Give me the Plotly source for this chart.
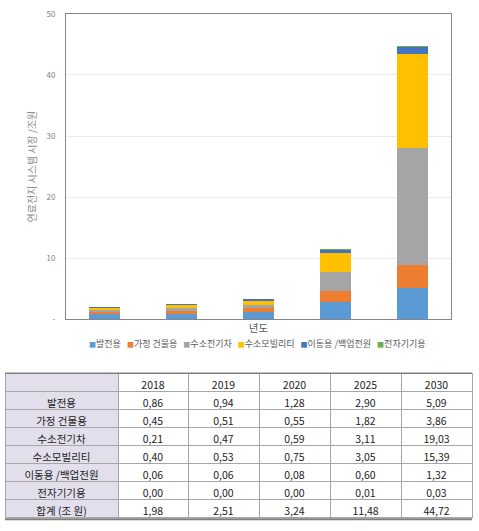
import plotly.graph_objects as go

W, H = 479, 531

years = ["2018", "2019", "2020", "2025", "2030"]
series_names = ["발전용", "가정 건물용", "수소전기차", "수소모빌리티", "이동용 /백업전원", "전자기기용"]
balgeon = [0.86, 0.94, 1.28, 2.90, 5.09]
gajeong = [0.45, 0.51, 0.55, 1.82, 3.86]
suso_car = [0.21, 0.47, 0.59, 3.11, 19.03]
suso_mob = [0.40, 0.53, 0.75, 3.05, 15.39]
idong = [0.06, 0.06, 0.08, 0.60, 1.32]
jeonja = [0.00, 0.00, 0.00, 0.01, 0.03]
totals = [1.98, 2.51, 3.24, 11.48, 44.72]
series_values = [balgeon, gajeong, suso_car, suso_mob, idong, jeonja]
colors = ["#5B9BD5", "#ED7D31", "#A5A5A5", "#FFC000", "#4472C4", "#70AD47"]
ytick_vals = [0, 10, 20, 30, 40, 50]
ytick_text = ["-", "10", "20", "30", "40", "50"]
row_labels = series_names + ["합계 (조 원)"]

FONT = "Noto Sans CJK KR"

def px_x(x):
    return x / W

def px_y(y):
    return 1 - y / H

fig = go.Figure()
for name, vals, c in zip(series_names, series_values, colors):
    fig.add_trace(go.Bar(x=years, y=vals, name=name, marker=dict(color=c, line=dict(width=0)),
                         width=0.4, xaxis="x", yaxis="y", showlegend=False))

def fmt(v):
    return f"{v:.2f}".replace(".", ",")

table_rows = series_values + [totals]
label_col = [s.replace(" ", "\u00a0") for s in row_labels]
cols = [label_col] + [[fmt(r[i]) for r in table_rows] for i in range(len(years))]
lav = "#E3DEEC"
fig.add_trace(go.Table(
    domain=dict(x=[px_x(5), px_x(472)], y=[px_y(529), px_y(375)]),
    columnwidth=[113, 70, 71, 71, 71, 71],
    header=dict(values=[""] + years, fill_color=[lav] + ["white"] * 5,
                line=dict(color="#A6A6A6", width=1), height=18,
                font=dict(family=FONT, size=10.5, color="#222222"), align="center"),
    cells=dict(values=cols, fill_color=[[lav] * 7] + [["white"] * 7] * 5,
               line=dict(color="#A6A6A6", width=1), height=18,
               font=dict(family=FONT, size=10.5, color="#222222"), align="center"),
))

# legend drawn as a single text line with coloured squares
gap = "\u00a0\u00a0\u00a0"
legend_parts = [f"<span style='color:{c};font-size:7px'>■</span>{n}" for n, c in zip(series_names, colors)]
legend_text = gap.join(legend_parts)

fig.update_layout(
    width=W, height=H, margin=dict(l=0, r=0, t=0, b=0),
    paper_bgcolor="white", plot_bgcolor="white",
    barmode="stack",
    font=dict(family=FONT, color="#595959", size=9),
    xaxis=dict(domain=[px_x(66), px_x(451)], showticklabels=False, ticks="",
               showline=True, linecolor="#868686", linewidth=1, mirror=True,
               title=dict(text="년도", font=dict(size=10.5, color="#595959"), standoff=5)),
    yaxis=dict(domain=[px_y(320), px_y(8)], range=[0, 50], tickvals=ytick_vals, ticktext=ytick_text,
               showline=True, linecolor="#868686", linewidth=1, mirror=True,
               gridcolor="#EBEBEB", gridwidth=1, ticks="", ticklen=0,
               ticklabelstandoff=8,
               tickfont=dict(size=8, color="#7F7F7F"), zeroline=False,
               title=dict(text="연료전지 시스템 시장 /조원", font=dict(size=10, color="#8C8C8C"), standoff=8)),
    showlegend=False,
    annotations=[dict(text=legend_text, xref="paper", yref="paper", x=px_x(257), y=px_y(345),
                      xanchor="center", yanchor="middle", showarrow=False,
                      font=dict(family=FONT, size=9, color="#595959"))],
    shapes=[
        dict(type="line", xref="paper", yref="paper", x0=px_x(5), x1=px_x(472), y0=px_y(375), y1=px_y(375),
             line=dict(color="#7F7F7F", width=1.5)),
        dict(type="line", xref="paper", yref="paper", x0=px_x(5), x1=px_x(472), y0=px_y(524), y1=px_y(524),
             line=dict(color="#7F7F7F", width=2)),
    ],
)

fig.write_html("out.html")
